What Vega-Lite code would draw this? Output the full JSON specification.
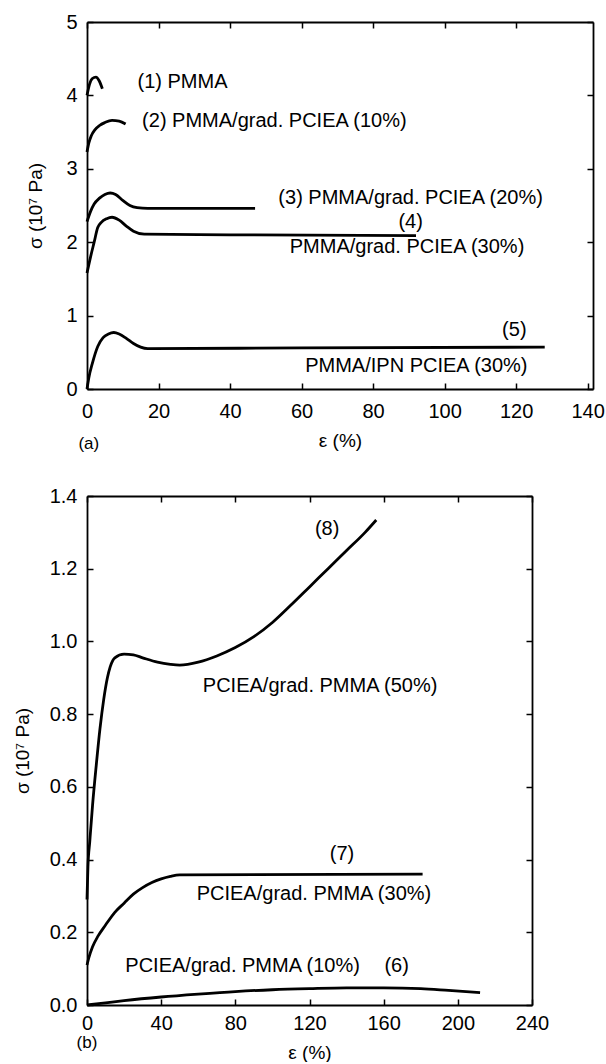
{
  "$schema": "https://vega.github.io/schema/vega-lite/v6.json",
  "padding": {"left": 13, "top": 12, "right": 0, "bottom": 0},
  "spacing": 33,
  "config": {
    "font": "Liberation Sans",
    "view": {"stroke": null},
    "axis": {
      "grid": false,
      "domainColor": "black",
      "domainWidth": 1.8,
      "tickColor": "black",
      "tickWidth": 1.5,
      "tickSize": -6,
      "labelFont": "Liberation Sans",
      "labelFontSize": 20,
      "labelColor": "black",
      "labelFlush": false,
      "labelOverlap": false,
      "titleFont": "Liberation Sans",
      "titleFontSize": 19,
      "titleFontWeight": "normal",
      "titleColor": "black"
    }
  },
  "datasets": {
    "curvesA": [
      {"s": "1", "e": 0, "v": 4.0}, {"s": "1", "e": 0.7, "v": 4.15}, {"s": "1", "e": 1.5, "v": 4.23},
      {"s": "1", "e": 2.5, "v": 4.25}, {"s": "1", "e": 3.4, "v": 4.2}, {"s": "1", "e": 4.3, "v": 4.09},
      {"s": "2", "e": 0, "v": 3.23}, {"s": "2", "e": 0.5, "v": 3.35}, {"s": "2", "e": 1.2, "v": 3.45},
      {"s": "2", "e": 2.2, "v": 3.53}, {"s": "2", "e": 3.5, "v": 3.59}, {"s": "2", "e": 5, "v": 3.63},
      {"s": "2", "e": 7, "v": 3.66}, {"s": "2", "e": 9, "v": 3.65}, {"s": "2", "e": 10.8, "v": 3.61},
      {"s": "3", "e": 0, "v": 2.28}, {"s": "3", "e": 1, "v": 2.42}, {"s": "3", "e": 2, "v": 2.52},
      {"s": "3", "e": 3.5, "v": 2.6}, {"s": "3", "e": 5, "v": 2.65}, {"s": "3", "e": 6.5, "v": 2.67},
      {"s": "3", "e": 8, "v": 2.65}, {"s": "3", "e": 10, "v": 2.57}, {"s": "3", "e": 12, "v": 2.5},
      {"s": "3", "e": 14, "v": 2.47}, {"s": "3", "e": 17, "v": 2.46}, {"s": "3", "e": 30, "v": 2.46},
      {"s": "3", "e": 47, "v": 2.46},
      {"s": "4", "e": 0, "v": 1.58}, {"s": "4", "e": 1, "v": 1.8}, {"s": "4", "e": 2, "v": 2.0},
      {"s": "4", "e": 3, "v": 2.2}, {"s": "4", "e": 4, "v": 2.27}, {"s": "4", "e": 5.5, "v": 2.32},
      {"s": "4", "e": 7, "v": 2.34}, {"s": "4", "e": 9, "v": 2.3}, {"s": "4", "e": 11, "v": 2.22},
      {"s": "4", "e": 13, "v": 2.15}, {"s": "4", "e": 16, "v": 2.11}, {"s": "4", "e": 40, "v": 2.1},
      {"s": "4", "e": 92, "v": 2.09},
      {"s": "5", "e": 0, "v": 0}, {"s": "5", "e": 0.5, "v": 0.15}, {"s": "5", "e": 1.5, "v": 0.35},
      {"s": "5", "e": 3, "v": 0.58}, {"s": "5", "e": 4.5, "v": 0.7}, {"s": "5", "e": 6, "v": 0.75},
      {"s": "5", "e": 7.5, "v": 0.77}, {"s": "5", "e": 9, "v": 0.75}, {"s": "5", "e": 11, "v": 0.69},
      {"s": "5", "e": 13, "v": 0.62}, {"s": "5", "e": 15, "v": 0.57}, {"s": "5", "e": 17, "v": 0.55},
      {"s": "5", "e": 60, "v": 0.56}, {"s": "5", "e": 128, "v": 0.57}
    ],
    "labelsA": [
      {"t": "(1)  PMMA", "e": 26.7, "v": 4.18},
      {"t": "(2)  PMMA/grad. PCIEA (10%)", "e": 52.4, "v": 3.65},
      {"t": "(3) PMMA/grad. PCIEA (20%)", "e": 90.5, "v": 2.6},
      {"t": "(4)", "e": 90.5, "v": 2.28},
      {"t": "PMMA/grad. PCIEA (30%)", "e": 89.5, "v": 1.93},
      {"t": "(5)", "e": 119.5, "v": 0.8},
      {"t": "PMMA/IPN PCIEA (30%)", "e": 92.1, "v": 0.31}
    ],
    "tagA": [{"t": "(a)", "e": 0.5, "v": -0.75}],
    "curvesB": [
      {"s": "8", "e": 0, "v": 0.29}, {"s": "8", "e": 0.5, "v": 0.38}, {"s": "8", "e": 1.5, "v": 0.45},
      {"s": "8", "e": 3, "v": 0.55}, {"s": "8", "e": 5, "v": 0.66}, {"s": "8", "e": 7, "v": 0.76},
      {"s": "8", "e": 9, "v": 0.84}, {"s": "8", "e": 11, "v": 0.9}, {"s": "8", "e": 12.5, "v": 0.93},
      {"s": "8", "e": 15, "v": 0.955}, {"s": "8", "e": 20, "v": 0.965}, {"s": "8", "e": 25, "v": 0.963},
      {"s": "8", "e": 30, "v": 0.955}, {"s": "8", "e": 38, "v": 0.943}, {"s": "8", "e": 45, "v": 0.937},
      {"s": "8", "e": 50, "v": 0.935}, {"s": "8", "e": 60, "v": 0.943}, {"s": "8", "e": 70, "v": 0.96},
      {"s": "8", "e": 80, "v": 0.983}, {"s": "8", "e": 90, "v": 1.013}, {"s": "8", "e": 100, "v": 1.052},
      {"s": "8", "e": 110, "v": 1.1}, {"s": "8", "e": 120, "v": 1.15}, {"s": "8", "e": 130, "v": 1.2},
      {"s": "8", "e": 140, "v": 1.25}, {"s": "8", "e": 150, "v": 1.3}, {"s": "8", "e": 156, "v": 1.334},
      {"s": "7", "e": 0, "v": 0.11}, {"s": "7", "e": 1, "v": 0.13}, {"s": "7", "e": 3, "v": 0.16},
      {"s": "7", "e": 6, "v": 0.19}, {"s": "7", "e": 10, "v": 0.22}, {"s": "7", "e": 15, "v": 0.255},
      {"s": "7", "e": 20, "v": 0.28}, {"s": "7", "e": 25, "v": 0.305}, {"s": "7", "e": 30, "v": 0.323},
      {"s": "7", "e": 35, "v": 0.337}, {"s": "7", "e": 40, "v": 0.347}, {"s": "7", "e": 45, "v": 0.354},
      {"s": "7", "e": 50, "v": 0.358}, {"s": "7", "e": 181, "v": 0.36},
      {"s": "6", "e": 0, "v": 0}, {"s": "6", "e": 10, "v": 0.006}, {"s": "6", "e": 20, "v": 0.012},
      {"s": "6", "e": 40, "v": 0.022}, {"s": "6", "e": 60, "v": 0.03}, {"s": "6", "e": 80, "v": 0.037},
      {"s": "6", "e": 100, "v": 0.042}, {"s": "6", "e": 120, "v": 0.045}, {"s": "6", "e": 140, "v": 0.047},
      {"s": "6", "e": 160, "v": 0.047}, {"s": "6", "e": 180, "v": 0.045}, {"s": "6", "e": 195, "v": 0.04},
      {"s": "6", "e": 212, "v": 0.034}
    ],
    "labelsB": [
      {"t": "(8)", "e": 129.5, "v": 1.31},
      {"t": "PCIEA/grad. PMMA (50%)", "e": 125.7, "v": 0.877},
      {"t": "(7)", "e": 137.5, "v": 0.415},
      {"t": "PCIEA/grad. PMMA (30%)", "e": 122.4, "v": 0.305},
      {"t": "PCIEA/grad. PMMA (10%)", "e": 83.9, "v": 0.107},
      {"t": "(6)", "e": 167, "v": 0.107}
    ],
    "tagB": [{"t": "(b)", "e": 0, "v": -0.105}]
  },
  "vconcat": [
    {
      "width": 506,
      "height": 367,
      "layer": [
        {
          "data": {"name": "curvesA"},
          "mark": {"type": "line", "interpolate": "monotone", "strokeWidth": 2.8, "color": "black"},
          "encoding": {
            "x": {"field": "e", "type": "quantitative", "scale": {"domain": [0, 141.5], "nice": false},
                  "axis": {"orient": "bottom", "values": [0, 20, 40, 60, 80, 100, 120, 140], "title": "ε (%)", "labelPadding": 18, "titlePadding": 10}},
            "y": {"field": "v", "type": "quantitative", "scale": {"domain": [0, 5], "nice": false},
                  "axis": {"orient": "left", "values": [0, 1, 2, 3, 4, 5], "title": "σ (10⁷ Pa)", "labelPadding": 16, "titlePadding": 20}},
            "detail": {"field": "s"}
          }
        },
        {
          "data": {"name": "labelsA"},
          "mark": {"type": "text", "fontSize": 20, "color": "black", "align": "center", "baseline": "middle"},
          "encoding": {
            "x": {"field": "e", "type": "quantitative", "scale": {"domain": [0, 141.5], "nice": false},
                  "axis": {"orient": "top", "values": [0, 20, 40, 60, 80, 100, 120], "labels": false, "title": null}},
            "y": {"field": "v", "type": "quantitative", "scale": {"domain": [0, 5], "nice": false},
                  "axis": {"orient": "right", "values": [0, 1, 2, 3, 4, 5], "labels": false, "title": null}},
            "text": {"field": "t"}
          }
        },
        {
          "data": {"name": "tagA"},
          "mark": {"type": "text", "fontSize": 17, "color": "black", "align": "center", "baseline": "middle"},
          "encoding": {
            "x": {"field": "e", "type": "quantitative", "axis": null},
            "y": {"field": "v", "type": "quantitative", "axis": null},
            "text": {"field": "t"}
          }
        }
      ],
      "resolve": {"axis": {"x": "independent", "y": "independent"}}
    },
    {
      "width": 445,
      "height": 509,
      "layer": [
        {
          "data": {"name": "curvesB"},
          "mark": {"type": "line", "interpolate": "monotone", "strokeWidth": 2.8, "color": "black"},
          "encoding": {
            "x": {"field": "e", "type": "quantitative", "scale": {"domain": [0, 240], "nice": false},
                  "axis": {"orient": "bottom", "values": [0, 40, 80, 120, 160, 200, 240], "title": "ε (%)", "labelPadding": 14, "titlePadding": 10}},
            "y": {"field": "v", "type": "quantitative", "scale": {"domain": [0, 1.4], "nice": false},
                  "axis": {"orient": "left", "values": [0, 0.2, 0.4, 0.6, 0.8, 1.0, 1.2, 1.4], "format": ".1f", "title": "σ (10⁷ Pa)", "labelPadding": 16, "titlePadding": 17}},
            "detail": {"field": "s"}
          }
        },
        {
          "data": {"name": "labelsB"},
          "mark": {"type": "text", "fontSize": 20, "color": "black", "align": "center", "baseline": "middle"},
          "encoding": {
            "x": {"field": "e", "type": "quantitative", "scale": {"domain": [0, 240], "nice": false},
                  "axis": {"orient": "top", "values": [0, 40, 80, 120, 160, 200, 240], "labels": false, "title": null}},
            "y": {"field": "v", "type": "quantitative", "scale": {"domain": [0, 1.4], "nice": false},
                  "axis": {"orient": "right", "values": [0, 0.2, 0.4, 0.6, 0.8, 1.0, 1.2, 1.4], "labels": false, "title": null}},
            "text": {"field": "t"}
          }
        },
        {
          "data": {"name": "tagB"},
          "mark": {"type": "text", "fontSize": 17, "color": "black", "align": "center", "baseline": "middle"},
          "encoding": {
            "x": {"field": "e", "type": "quantitative", "axis": null},
            "y": {"field": "v", "type": "quantitative", "axis": null},
            "text": {"field": "t"}
          }
        }
      ],
      "resolve": {"axis": {"x": "independent", "y": "independent"}}
    }
  ]
}
